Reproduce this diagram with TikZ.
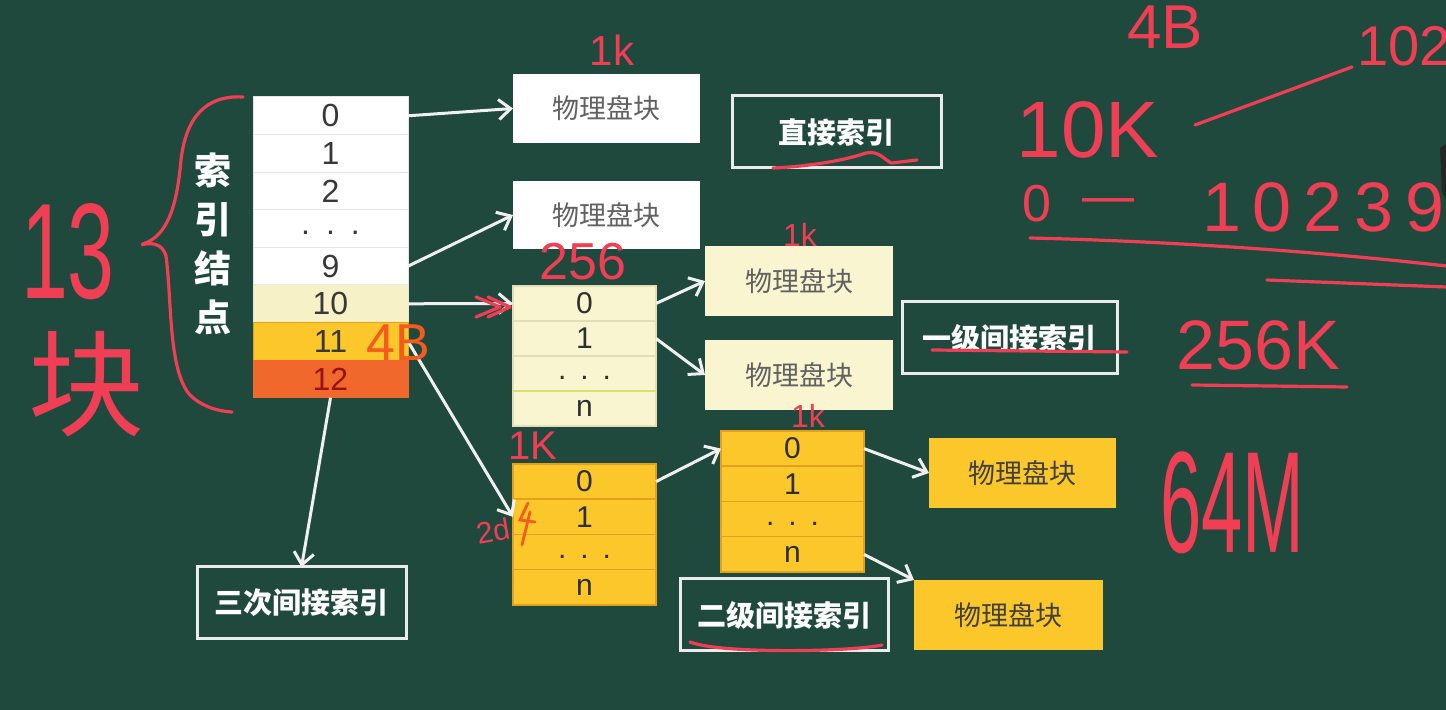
\documentclass[tikz,border=0pt]{standalone}
\usepackage{fontspec}
\setmainfont{Liberation Sans}
\newfontfamily\cjk{Noto Sans CJK SC}
\usetikzlibrary{arrows.meta}
\definecolor{board}{RGB}{32,73,61}
\definecolor{inkred}{RGB}{240,62,85}
\definecolor{orink}{RGB}{245,90,30}
\definecolor{lightyel}{RGB}{249,245,208}
\definecolor{rowten}{RGB}{246,241,198}
\definecolor{yel}{RGB}{252,199,42}
\definecolor{orng}{RGB}{241,104,44}
\definecolor{sepyel}{RGB}{226,160,30}
\definecolor{seplight}{RGB}{225,222,185}
\definecolor{sepgreen}{RGB}{215,225,110}
\definecolor{darkred}{RGB}{150,20,20}
\newcommand\myfs[1]{\fontsize{#1}{#1}\selectfont}
\tikzset{
  every node/.style={inner sep=0pt, outer sep=0pt},
  icell/.style={minimum width=77.5pt, minimum height=18.8pt, draw=black!10, line width=0.5pt, font=\myfs{16}, text=black!78},
  tcell/.style={minimum width=71.5pt, minimum height=17.6pt, line width=0.7pt, font=\myfs{15}, text=black!82},
  pblock/.style={minimum width=94pt, minimum height=35pt, font=\cjk\myfs{13.5}, text=black!62},
  idxbox/.style={draw=white!92!black, line width=1.5pt, minimum width=104.5pt, minimum height=36pt, font=\cjk\bfseries\myfs{14.5}, text=white},
  arr/.style={draw=white!94!black, line width=1.5pt, -{Straight Barb[length=6pt,width=10pt,line width=1.5pt]}},
  hw/.style={text=inkred, font=\myfs{#1}},
  inkline/.style={draw=inkred, line width=1.6pt, line cap=round, line join=round},
}
\begin{document}
\begin{tikzpicture}[x=0.5pt,y=-0.5pt]
\useasboundingbox (0,0) rectangle (1446,710);
\clip (0,0) rectangle (1446,710);
\fill[board] (0,0) rectangle (1446,710);
\fill[black!85] (1440,148) -- (1446,144) -- (1446,200) -- (1442,192) -- cycle;

% ---------- index node table ----------
\node[icell, fill=white] (r0) at (330.5,115.8) {0};
\node[icell, fill=white] (r1) at (330.5,153.4) {1};
\node[icell, fill=white] (r2) at (330.5,191.0) {2};
\node[icell, fill=white] (rd) at (330.5,228.6) {\strut.\hspace{8pt}.\hspace{8pt}.};
\node[icell, fill=white] (r9) at (330.5,266.2) {9};
\node[icell, fill=rowten] (r10) at (330.5,303.8) {10};
\node[icell, fill=yel, draw=sepyel] (r11) at (330.5,341.4) {11};
\node[icell, fill=orng, draw=orng, text=darkred] (r12) at (330.5,379.0) {12};

\node[font=\cjk\bfseries\myfs{18.5}, text=white, align=center, execute at begin node={\setlength{\baselineskip}{24.5pt}}] (idxname) at (213,244) {索\\引\\结\\点};

% ---------- direct blocks ----------
\node[pblock, fill=white, minimum width=93.5pt, minimum height=34.5pt] (pbA) at (606.5,108.5) {物理盘块};
\node[pblock, fill=white, minimum width=93.5pt, minimum height=34pt] (pbB) at (606.5,215) {物理盘块};
\node[idxbox] (direct) at (836.5,132) {直接索引};

% ---------- first level ----------
\node[tcell, fill=lightyel, draw=seplight, minimum height=17.5pt] (fa0) at (584.5,303.5) {0};
\node[tcell, fill=lightyel, draw=seplight, minimum height=17.5pt] (fa1) at (584.5,338.5) {1};
\node[tcell, fill=lightyel, draw=seplight, minimum height=17.5pt] (fad) at (584.5,373.5) {\strut.\hspace{7pt}.\hspace{7pt}.};
\node[tcell, fill=lightyel, draw=seplight, minimum height=17.5pt] (fan) at (584.5,408.5) {n};
\draw[line width=1pt, sepgreen] (fad.south west) -- (fad.south east);
\node[pblock, fill=lightyel] (fbA) at (799,281) {物理盘块};
\node[pblock, fill=lightyel] (fbB) at (799,375) {物理盘块};
\node[idxbox, minimum width=107.5pt] (first) at (1009.5,338) {一级间接索引};

% ---------- second level ----------
\node[tcell, fill=yel, draw=sepyel] (sa0) at (584.5,481.6) {0};
\node[tcell, fill=yel, draw=sepyel] (sa1) at (584.5,516.9) {1};
\node[tcell, fill=yel, draw=sepyel] (sad) at (584.5,552.1) {\strut.\hspace{7pt}.\hspace{7pt}.};
\node[tcell, fill=yel, draw=sepyel] (san) at (584.5,587.4) {n};
\node[tcell, fill=yel, draw=sepyel] (sb0) at (792.5,448.6) {0};
\node[tcell, fill=yel, draw=sepyel] (sb1) at (792.5,483.9) {1};
\node[tcell, fill=yel, draw=sepyel] (sbd) at (792.5,519.1) {\strut.\hspace{7pt}.\hspace{7pt}.};
\node[tcell, fill=yel, draw=sepyel] (sbn) at (792.5,554.4) {n};
\node[pblock, fill=yel, minimum width=93.5pt, text=black!75] (scA) at (1022.5,473) {物理盘块};
\node[pblock, fill=yel, minimum width=94.5pt, text=black!75] (scB) at (1008.5,615) {物理盘块};
\node[idxbox, minimum width=104pt] (second) at (784,615) {二级间接索引};

% ---------- third level ----------
\node[idxbox] (third) at (301.5,603) {三次间接索引};

% ---------- arrows ----------
\draw[arr] (r0.east) -- (pbA.west);
\draw[arr] (r9.east) -- (pbB.west);
\draw[arr] (r10.east) -- (fa0.west);
\draw[arr] (r11.east) -- (sa1.west);
\draw[arr] (r12.south) -- (third.north);
\draw[arr] (fa0.east) -- (fbA.west);
\draw[arr] (fa1.east) -- (fbB.west);
\draw[arr] (sa0.east) -- (sb0.west);
\draw[arr] (sb0.east) -- (scA.west);
\draw[arr] (sbn.east) -- (scB.north west);

% ---------- handwritten annotations ----------
\draw[inkline] (243,97) .. controls (205,95) and (186,118) .. (181,160)
  .. controls (177,205) and (168,236) .. (143,244)
  .. controls (138,247) and (160,236) .. (166,256)
  .. controls (172,300) and (168,370) .. (190,395)
  .. controls (200,405) and (215,411) .. (232,412);
\node[hw=35] (n13) at (68,252) {\scalebox{0.62}[1]{\myfs{68}13}};
\node[hw=58, font=\cjk\myfs{58}] (kuai) at (86,384) {块};

\node[hw=21] (a1k) at (612,50) {1k};
\node[hw=26] (a256) at (583,262) {256};
\draw[inkline] (476,297) -- (500,307) -- (476,317);
\draw[inkline] (488,297) -- (510,307) -- (488,317);
\node[hw=16] (b1k) at (800,235) {1k};
\node[text=orink, font=\myfs{26}] (a4b) at (398,343) {4B};
\node[hw=20] (c1k) at (533,446) {1K};
\node[hw=16] (d1k) at (808,416) {1k};
\node[hw=15, rotate=10] (e2d) at (493,531) {2d};
\draw[draw=orink, line width=1.4pt, line cap=round] (528,503) -- (520,520) -- (535,522) (530,512) -- (522,545);

\draw[inkline] (773,168) .. controls (800,167) and (840,162) .. (866,153) .. controls (880,150) and (886,162) .. (892,163) -- (917,160);
\draw[inkline] (932,350) -- (1127,352);
\draw[inkline] (690,642) .. controls (720,654) and (850,652) .. (882,645);

\node[hw=31] (t4b) at (1165,27) {4B};
\node[hw=28, anchor=west] (t102) at (1357,46) {102};
\draw[inkline] (1195,125) -- (1352,67);
\node[hw=40] (t10k) at (1088,130) {10K};
\node[hw=26] (t0) at (1037,204) {0};
\node[hw=26] (tdash) at (1108,206) {—};
\node[hw=35, anchor=base west] (t10239) at (1202,232) {1\kern6pt0\kern6pt2\kern6pt3\kern6pt9};
\draw[inkline] (1030,238) .. controls (1200,242) and (1350,255) .. (1446,266);
\draw[inkline] (1267,280) -- (1446,287);
\node[hw=35] (t256k) at (1258,345) {256K};
\draw[inkline] (1192,385) -- (1347,387);
\node[hw=37] (t64m) at (1232,503) {\scalebox{1}[1.95]{64M}};
\end{tikzpicture}
\end{document}
